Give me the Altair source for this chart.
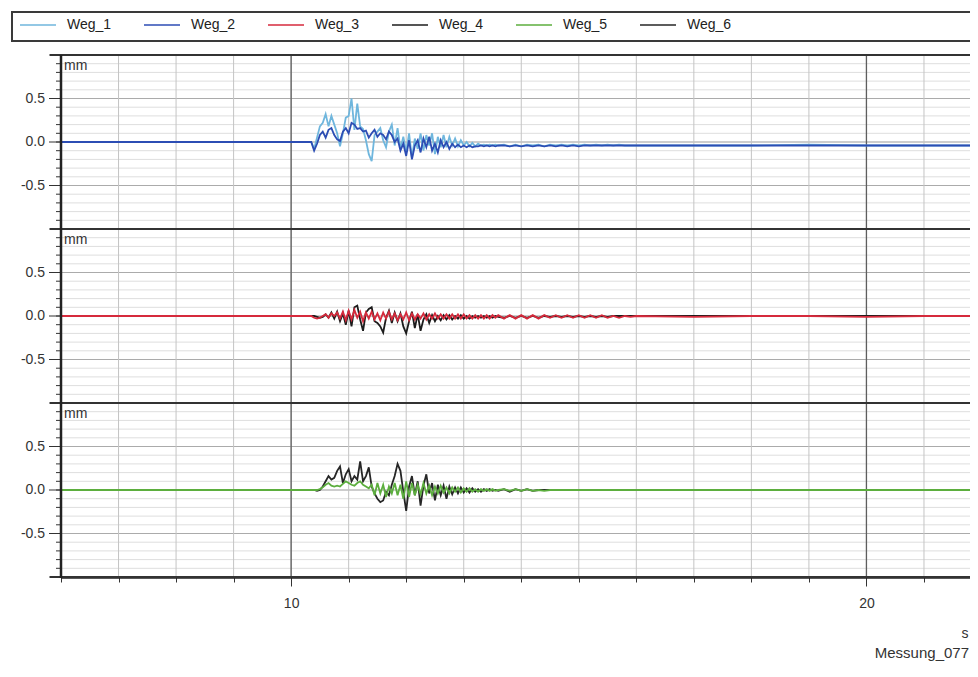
import altair as alt
import pandas as pd

# ---------------- data ----------------
SERIES = ["Weg_1", "Weg_2", "Weg_3", "Weg_4", "Weg_5", "Weg_6"]
COLORS = ["#6fb6dd", "#2c4db4", "#d62a3c", "#1c1c1c", "#5cae3e", "#262626"]
PANEL_OFFSET = {"Weg_1": 4, "Weg_2": 4, "Weg_3": 2, "Weg_4": 2, "Weg_5": 0, "Weg_6": 0}
DRAW_ORDER = ["Weg_1", "Weg_2", "Weg_4", "Weg_3", "Weg_6", "Weg_5"]

T = ([6.0, 9.0, 10.0] +
     [10.30, 10.35, 10.40, 10.45, 10.50, 10.55, 10.60, 10.65, 10.70, 10.75,
      10.80, 10.85, 10.90, 10.95, 11.00, 11.05, 11.10, 11.15, 11.20, 11.25,
      11.30, 11.35, 11.40, 11.45, 11.50, 11.55, 11.60, 11.65, 11.70, 11.75,
      11.80, 11.85, 11.90, 11.95, 12.00, 12.05, 12.10, 12.15, 12.20, 12.25,
      12.30, 12.35, 12.40, 12.45, 12.50, 12.55, 12.60, 12.65, 12.70, 12.75,
      12.80, 12.85, 12.90, 12.95, 13.00, 13.05, 13.10, 13.15, 13.20, 13.25,
      13.30, 13.35, 13.40, 13.45, 13.50, 13.55, 13.60] +
     [13.7, 13.8, 13.9, 14.0, 14.1, 14.2, 14.3, 14.4, 14.5, 14.6, 14.7, 14.8,
      14.9, 15.0, 15.1, 15.2, 15.3, 15.4, 15.5, 15.6, 15.7, 15.8, 15.9, 16.0] +
     [17.0, 18.0, 19.0, 20.0, 21.0, 21.8])

WEG_1 = ([0.0, 0.0, 0.0] +
         [0.00, 0.00, -0.08, 0.05, 0.18, 0.22, 0.32, 0.18, 0.30, 0.20,
          0.10, -0.05, 0.10, 0.28, 0.30, 0.50, 0.14, 0.44, 0.18, 0.15,
          0.02, -0.14, -0.22, 0.08, 0.12, 0.16, 0.02, -0.06, 0.12, 0.20,
          -0.04, 0.16, -0.08, 0.06, -0.12, 0.10, -0.18, 0.04, -0.08, 0.10,
          -0.10, 0.08, -0.04, 0.10, -0.14, 0.06, -0.06, 0.08, -0.06, 0.06,
          -0.04, 0.04, -0.05, 0.02, -0.04, 0.00, -0.05, -0.01, -0.05, -0.02,
          -0.04, -0.03, -0.04, -0.03, -0.04, -0.03, -0.04] +
         [-0.03, -0.05, -0.03, -0.05, -0.03, -0.04, -0.03, -0.05, -0.03, -0.04, -0.03, -0.04,
          -0.03, -0.04, -0.03, -0.04, -0.03, -0.04, -0.03, -0.04, -0.03, -0.04, -0.04, -0.04] +
         [-0.04, -0.04, -0.03, -0.04, -0.04, -0.04])

WEG_2 = ([0.0, 0.0, 0.0] +
         [0.00, 0.00, -0.10, -0.02, 0.08, 0.12, 0.05, 0.14, 0.16, 0.08,
          0.03, 0.01, 0.12, 0.16, 0.10, 0.22, 0.20, 0.15, 0.16, 0.12,
          0.13, 0.05, 0.10, 0.14, 0.06, 0.10, 0.08, 0.03, 0.12, 0.08,
          0.00, 0.04, -0.10, -0.02, -0.16, 0.02, -0.20, -0.04, 0.02, -0.12,
          0.04, -0.06, 0.06, -0.10, -0.02, -0.12, 0.02, -0.06, 0.00, -0.08,
          -0.02, -0.06, -0.03, -0.06, -0.04, -0.06, -0.04, -0.06, -0.05, -0.05,
          -0.04, -0.05, -0.04, -0.05, -0.04, -0.05, -0.04] +
         [-0.04, -0.05, -0.04, -0.05, -0.04, -0.05, -0.04, -0.05, -0.04, -0.05, -0.04, -0.05,
          -0.04, -0.05, -0.04, -0.04, -0.04, -0.04, -0.04, -0.04, -0.04, -0.04, -0.04, -0.04] +
         [-0.04, -0.04, -0.04, -0.04, -0.04, -0.04])

WEG_3 = ([0.0, 0.0, 0.0] +
         [0.00, 0.00, -0.02, -0.03, -0.02, 0.00, 0.02, -0.02, 0.03, 0.00,
          0.04, -0.03, 0.05, -0.05, 0.06, -0.04, 0.07, -0.02, 0.05, -0.06,
          0.04, -0.03, 0.05, -0.04, 0.03, -0.05, 0.04, -0.03, 0.05, -0.04,
          0.03, -0.05, 0.02, -0.04, 0.04, -0.05, 0.03, -0.04, 0.02, -0.03,
          0.03, -0.04, 0.02, -0.03, 0.03, -0.03, 0.02, -0.03, 0.02, -0.03,
          0.02, -0.03, 0.02, -0.03, 0.02, -0.03, 0.01, -0.03, 0.01, -0.03,
          0.01, -0.03, 0.01, -0.03, 0.01, -0.02, 0.01] +
         [-0.03, 0.01, -0.03, 0.01, -0.03, 0.01, -0.03, 0.01, -0.02, 0.01, -0.02, 0.01,
          -0.02, 0.01, -0.02, 0.01, -0.02, 0.01, -0.02, 0.00, -0.02, 0.00, -0.01, 0.00] +
         [-0.01, 0.00, 0.00, -0.01, 0.00, 0.00])

WEG_4 = ([0.0, 0.0, 0.0] +
         [0.00, 0.00, 0.00, -0.01, -0.02, -0.01, 0.02, -0.02, 0.04, -0.03,
          0.05, -0.06, 0.03, -0.10, 0.06, -0.12, 0.10, 0.12, -0.04, -0.17,
          0.04, 0.08, 0.10, -0.06, -0.08, -0.12, -0.19, -0.02, 0.06, -0.08,
          0.04, -0.06, 0.03, -0.12, -0.20, -0.06, 0.05, -0.14, 0.02, -0.17,
          -0.04, 0.02, -0.08, 0.01, -0.06, 0.00, -0.05, 0.01, -0.04, 0.01,
          -0.04, 0.00, -0.03, 0.01, -0.03, 0.00, -0.03, 0.00, -0.02, 0.00,
          -0.02, 0.00, -0.02, 0.00, -0.02, 0.00, -0.01] +
         [-0.02, 0.00, -0.02, 0.00, -0.02, 0.00, -0.02, 0.00, -0.01, 0.00, -0.01, 0.00,
          -0.01, 0.00, -0.01, 0.00, -0.01, 0.00, -0.01, 0.00, 0.00, 0.00, 0.00, 0.00] +
         [0.00, 0.00, 0.00, 0.00, 0.00, 0.00])

WEG_5 = ([0.0, 0.0, 0.0] +
         [0.00, 0.00, 0.00, 0.00, 0.01, 0.03, 0.06, 0.08, 0.05, 0.04,
          0.05, 0.04, 0.07, 0.10, 0.08, 0.06, 0.05, 0.08, 0.10, 0.06,
          0.04, 0.02, 0.06, -0.06, 0.08, -0.04, 0.06, -0.08, 0.04, -0.04,
          0.08, -0.06, 0.06, -0.10, 0.10, -0.08, 0.08, -0.06, 0.06, -0.05,
          0.08, -0.04, 0.05, -0.06, 0.04, -0.04, 0.05, -0.03, 0.03, -0.04,
          0.03, -0.02, 0.03, -0.03, 0.02, -0.02, 0.02, -0.02, 0.01, -0.02,
          0.01, -0.01, 0.01, -0.01, 0.01, -0.01, 0.00] +
         [0.01, -0.01, 0.01, -0.01, 0.01, -0.01, 0.00, -0.01, 0.00, 0.00, 0.00, 0.00,
          0.00, 0.00, 0.00, 0.00, 0.00, 0.00, 0.00, 0.00, 0.00, 0.00, 0.00, 0.00] +
         [0.00, 0.00, 0.00, 0.00, 0.00, 0.00])

WEG_6 = ([0.0, 0.0, 0.0] +
         [0.00, 0.00, 0.00, -0.01, 0.00, 0.04, 0.10, 0.16, 0.12, 0.14,
          0.22, 0.27, 0.08, 0.18, 0.24, 0.10, 0.16, 0.12, 0.33, 0.10,
          0.16, 0.26, 0.04, -0.04, -0.10, -0.14, -0.12, -0.02, -0.06, 0.06,
          0.16, 0.30, 0.22, -0.02, -0.24, 0.04, 0.16, -0.06, 0.10, -0.18,
          0.05, 0.18, -0.04, 0.08, -0.12, 0.06, -0.06, 0.05, -0.10, 0.04,
          -0.05, 0.03, -0.04, 0.03, -0.03, 0.02, -0.03, 0.02, -0.02, 0.01,
          -0.02, 0.01, -0.01, 0.01, -0.01, 0.00, -0.01] +
         [0.01, -0.02, 0.01, -0.01, 0.01, -0.01, 0.00, 0.00, 0.00, 0.00, 0.00, 0.00,
          0.00, 0.00, 0.00, 0.00, 0.00, 0.00, 0.00, 0.00, 0.00, 0.00, 0.00, 0.00] +
         [0.00, 0.00, 0.00, 0.00, 0.00, 0.00])

VALUES = {"Weg_1": WEG_1, "Weg_2": WEG_2, "Weg_3": WEG_3,
          "Weg_4": WEG_4, "Weg_5": WEG_5, "Weg_6": WEG_6}

# stacked panels on one combined y scale: panel 1 centred at 4, panel 2 at 2, panel 3 at 0
PANEL_TOPS = [5, 3, 1]
PANEL_LINES = [5, 3, 1, -1]
Y_LABEL_POS = [4.5, 4.0, 3.5, 2.5, 2.0, 1.5, 0.5, 0.0, -0.5]
Y_LABEL_TXT = ["0.5", "0.0", "-0.5", "0.5", "0.0", "-0.5", "0.5", "0.0", "-0.5"]
Y_MAJOR = [5.0, 4.5, 4.0, 3.5, 3.0, 2.5, 2.0, 1.5, 1.0, 0.5, 0.0, -0.5, -1.0]
Y_MINOR = [round(-1 + 0.1 * i, 1) for i in range(61)]
X_TICKS = [6, 7, 8, 9, 10, 11, 12, 13, 14, 15, 16, 17, 18, 19, 20, 21]
X_MAJOR = [10, 20]

# ---------------- build tables ----------------
rows = []
for name in DRAW_ORDER:
    for t, v in zip(T, VALUES[name]):
        rows.append({"t": t, "v": v, "y": v + PANEL_OFFSET[name], "series": name})
df = pd.DataFrame(rows)

W, H = 909, 522
FONT = "Liberation Sans"

xscale = alt.Scale(domain=[6, 21.8], nice=False, zero=False)
yscale = alt.Scale(domain=[-1, 5], nice=False, zero=False)


def Y():
    return alt.Y("y:Q", scale=yscale, axis=None)


XMAJ = "datum.value == 10 || datum.value == 20"
xaxis = alt.Axis(
    values=X_TICKS, title=None, grid=False,
    labelExpr=f"{XMAJ} ? datum.value : ''",
    tickSize={"condition": {"test": XMAJ, "value": 9}, "value": 5},
    labelPadding=10, tickColor="#333",
    domainColor="#222", domainWidth=2.5,
    labelFont=FONT, labelFontSize=14, labelColor="#333",
)


def X():
    return alt.X("t:Q", scale=xscale, axis=xaxis)


# grid
grid_minor = alt.Chart(pd.DataFrame({"y": Y_MINOR})).mark_rule(
    color="#dedede", strokeWidth=1
).encode(y=Y(), x=alt.value(0), x2=alt.value(W))
grid_major = alt.Chart(pd.DataFrame({"y": Y_MAJOR})).mark_rule(
    color="#ababab", strokeWidth=1
).encode(y=Y(), x=alt.value(0), x2=alt.value(W))
vgrid_minor = alt.Chart(pd.DataFrame({"t": X_TICKS})).mark_rule(
    color="#c4c4c4", strokeWidth=1
).encode(x=X(), y=alt.value(0), y2=alt.value(H))
vgrid_major = alt.Chart(pd.DataFrame({"t": X_MAJOR})).mark_rule(
    color="#5e5e5e", strokeWidth=1.3
).encode(x=X(), y=alt.value(0), y2=alt.value(H))

lines = alt.Chart(df).mark_line(strokeWidth=1.8, clip=True).encode(
    x=X(),
    y=Y(),
    color=alt.Color(
        "series:N",
        scale=alt.Scale(domain=SERIES, range=COLORS),
        legend=alt.Legend(
            orient="none", legendX=-42, legendY=-49, direction="horizontal",
            title=None, symbolType="stroke", symbolSize=1296, symbolStrokeWidth=1.5,
            labelFont=FONT, labelFontSize=14, labelColor="#222", labelOffset=10,
            columnPadding=29, padding=0,
        ),
    ),
    detail="series:N",
    order=alt.Order("t:Q"),
)

frame = alt.Chart(pd.DataFrame({"y": PANEL_LINES})).mark_rule(
    color="#333", strokeWidth=2
).encode(y=Y(), x=alt.value(-11), x2=alt.value(W))

# y axis built from marks
tick_minor = alt.Chart(pd.DataFrame({"y": Y_MINOR})).mark_rule(
    color="#333", strokeWidth=1
).encode(y=Y(), x=alt.value(-5), x2=alt.value(0))
tick_major = alt.Chart(pd.DataFrame({"y": Y_MAJOR})).mark_rule(
    color="#333", strokeWidth=1
).encode(y=Y(), x=alt.value(-12), x2=alt.value(0))
ylabels = alt.Chart(pd.DataFrame({"y": Y_LABEL_POS, "txt": Y_LABEL_TXT})).mark_text(
    align="right", baseline="middle", font=FONT, fontSize=14, color="#333"
).encode(y=Y(), x=alt.value(-16), text="txt:N")
ydomain = alt.Chart(pd.DataFrame({"a": [0]})).mark_rule(
    color="#222", strokeWidth=2.5
).encode(x=alt.value(0), y=alt.value(0), y2=alt.value(H + 1))

mm = alt.Chart(pd.DataFrame({"y": PANEL_TOPS, "txt": ["mm"] * 3})).mark_text(
    align="left", baseline="middle", dx=3, dy=11, font=FONT, fontSize=14, color="#333"
).encode(y=Y(), x=alt.value(0), text="txt:N")

legend_box = alt.Chart(pd.DataFrame({"a": [0]})).mark_rect(
    fill="white", fillOpacity=0, stroke="#3a3a3a", strokeWidth=2
).encode(
    x=alt.value(-49), x2=alt.value(W + 20),
    y=alt.value(-43), y2=alt.value(-14),
)

unit_s = alt.Chart(pd.DataFrame({"txt": ["s"]})).mark_text(
    align="center", baseline="middle", font=FONT, fontSize=14, color="#333"
).encode(x=alt.value(W - 5), y=alt.value(579), text="txt:N")

messung = alt.Chart(pd.DataFrame({"txt": ["Messung_077"]})).mark_text(
    align="right", baseline="middle", font=FONT, fontSize=15, color="#333"
).encode(x=alt.value(W - 1), y=alt.value(598), text="txt:N")

chart = alt.layer(
    grid_minor, grid_major, vgrid_minor, vgrid_major, lines, frame,
    tick_minor, tick_major, ylabels, ydomain, mm, legend_box, unit_s, messung,
).properties(
    width=W, height=H,
    autosize=alt.AutoSizeParams(type="none"),
    padding={"left": 53, "top": 47, "right": 0, "bottom": 86},
    background="white",
).configure_view(stroke=None)

chart.save("out.html", embed_options={"renderer": "svg", "actions": False})
